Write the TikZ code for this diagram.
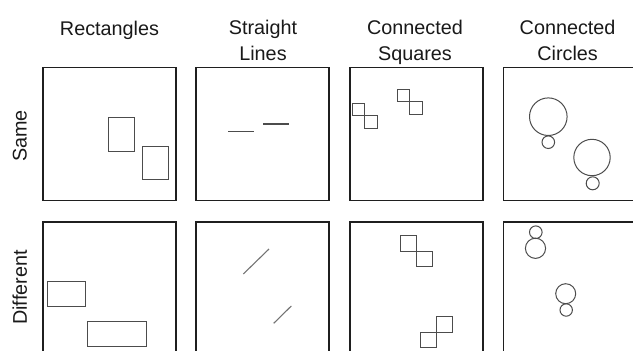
\documentclass[tikz,border=0pt]{standalone}
\usepackage{fontspec}
\setmainfont{Liberation Sans}
\begin{document}
\begin{tikzpicture}[x=1pt,y=-1pt,
  frame/.style={draw=black!88,line width=1.6pt},
  figshape/.style={draw=black!70,line width=1pt},
  thinline/.style={draw=black!70,line width=1.1pt},
  title/.style={font=\fontsize{19.8}{25.8}\selectfont,align=center,inner sep=0pt,anchor=north,text=black!90},
  rowlab/.style={font=\fontsize{19.8}{25.8}\selectfont,inner sep=0pt,rotate=90,text=black!90}]
\useasboundingbox (0,0) rectangle (633,351);
\clip (0,0) rectangle (633,351);
% titles
\node[title] (t1) at (109.5,20.5) {Rectangles};
\node[title] (t2) at (263,20.2) {Straight\\Lines};
\node[title] (t3) at (415,20.2) {Connected\\Squares};
\node[title] (t4) at (567.6,20.2) {Connected\\Circles};
% row labels
\node[rowlab] (r1) at (19.8,136) {Same};
\node[rowlab] (r2) at (19.8,287.5) {Different};
% frames
\foreach \x in {42.7,196,350,503.3}{
  \draw[frame] (\x,67.3) rectangle ++(133,133);
  \draw[frame] (\x,221.7) rectangle ++(133,133);
}
% Rectangles same
\draw[figshape] (108.7,117.7) rectangle (134.3,151.7);
\draw[figshape] (142.7,146.3) rectangle (168,179);
% Rectangles different
\draw[figshape] (47.7,281) rectangle (85,306.7);
\draw[figshape] (87.7,321.7) rectangle (146.7,346.7);
% Straight lines same
\draw[thinline] (228.3,131.7) -- (253.7,131.7);
\draw[thinline] (263,124) -- (289.3,124);
% Straight lines different
\draw[thinline,draw=black!55] (243.3,274) -- (269,249);
\draw[thinline,draw=black!55] (273.7,323.3) -- (291.3,306);
% Connected squares same
\draw[figshape] (352,103.7) rectangle (364,115.7);
\draw[figshape] (364,115.7) rectangle (377,128.3);
\draw[figshape] (397.3,89.3) rectangle (409.7,101.7);
\draw[figshape] (409.7,101.7) rectangle (422.3,114);
% Connected squares different
\draw[figshape] (400,235.7) rectangle (416,251.3);
\draw[figshape] (416,251.3) rectangle (432,266.7);
\draw[figshape] (436,316) rectangle (452,332);
\draw[figshape] (420,332) rectangle (436,347.7);
% Connected circles same
\draw[figshape] (548.3,116.7) circle (18.8);
\draw[figshape] (548.3,142.2) circle (6.3);
\draw[figshape] (592,157.5) circle (18.2);
\draw[figshape] (592.7,183.3) circle (6.5);
% Connected circles different
\draw[figshape] (535.8,232.2) circle (6.3);
\draw[figshape] (535.5,248.3) circle (10.1);
\draw[figshape] (565.7,293.7) circle (10);
\draw[figshape] (566.2,310) circle (6.2);
\end{tikzpicture}
\end{document}
